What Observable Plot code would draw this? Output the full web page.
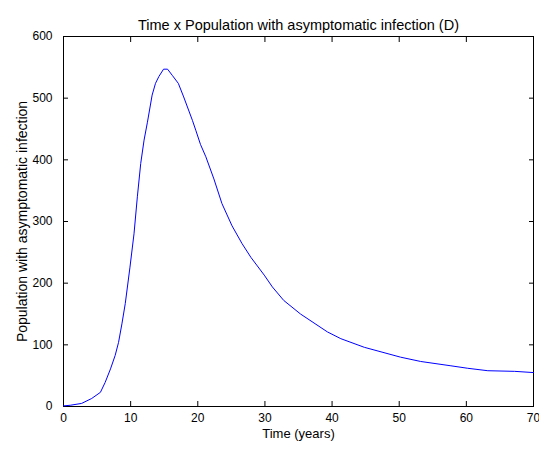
<!DOCTYPE html>
<html>
<head>
<meta charset="utf-8">
<script src="https://cdn.jsdelivr.net/npm/d3@7"></script>
<script src="https://cdn.jsdelivr.net/npm/@observablehq/plot@0.6"></script>
<style>
  html, body { margin: 0; padding: 0; background: #fff; }
</style>
</head>
<body>
<div id="chart"></div>
<script>
const title = "Time x Population with asymptomatic infection (D)";
const xLabel = "Time (years)";
const yLabel = "Population with asymptomatic infection";
const xTicks = [0, 10, 20, 30, 40, 50, 60, 70];
const yTicks = [0, 100, 200, 300, 400, 500, 600];

const time = [0, 1, 2.7, 4.2, 5.5, 6.2, 7, 7.7, 8.2, 8.7, 9.2, 9.9, 10.5, 11, 11.5, 12, 12.5, 13.2, 13.7, 14.2, 14.9, 15.5, 16.2, 17.1, 17.9, 19.2, 19.7, 20.4, 21.2, 22.4, 23.6, 25.1, 26.6, 27.9, 29.9, 31.1, 32.8, 35.3, 39.3, 41.3, 44.8, 50.2, 53.2, 57.7, 60.2, 63.2, 67.2, 70];
const population = [1, 2, 5, 13, 23, 39, 61, 83, 104, 134, 167, 226, 280, 340, 394, 432, 461, 505, 524, 535, 547, 547, 537, 524, 502, 464, 448, 425, 405, 369, 329, 293, 264, 242, 213, 194, 172, 150, 121, 110, 96, 80, 73, 66, 62, 58, 57, 55];

const data = time.map((t, i) => ({t, v: population[i]}));

const chart = Plot.plot({
  width: 539,
  height: 449,
  marginLeft: 63,
  marginRight: 6,
  marginTop: 36,
  marginBottom: 43,
  style: {fontFamily: "Liberation Sans, Arial, sans-serif", fontSize: "12px", color: "black", background: "white"},
  x: {domain: [0, 70]},
  y: {domain: [0, 600]},
  marks: [
    Plot.frame({stroke: "black"}),
    Plot.axisX(xTicks, {anchor: "bottom", tickSize: -5, tickPadding: 12, fontSize: 12, label: null, fill: "black"}),
    Plot.axisX(xTicks, {anchor: "top", tickSize: -5, tickFormat: () => "", label: null}),
    Plot.axisY(yTicks, {anchor: "left", tickSize: -5, tickPadding: 16, fontSize: 12, label: null, fill: "black"}),
    Plot.axisY(yTicks, {anchor: "right", tickSize: -5, tickFormat: () => "", label: null}),
    Plot.line(data, {x: "t", y: "v", stroke: "#0000ff", strokeWidth: 1}),
    Plot.text([xLabel], {frameAnchor: "bottom", dy: 31, fill: "black", fontSize: 13}),
    Plot.text([yLabel], {frameAnchor: "left", textAnchor: "middle", dx: -41, rotate: -90, fill: "black", fontSize: 14}),
    Plot.text([title], {frameAnchor: "top", dy: -17, fill: "black", fontSize: 14.5})
  ]
});
document.getElementById("chart").appendChild(chart);
</script>
</body>
</html>
